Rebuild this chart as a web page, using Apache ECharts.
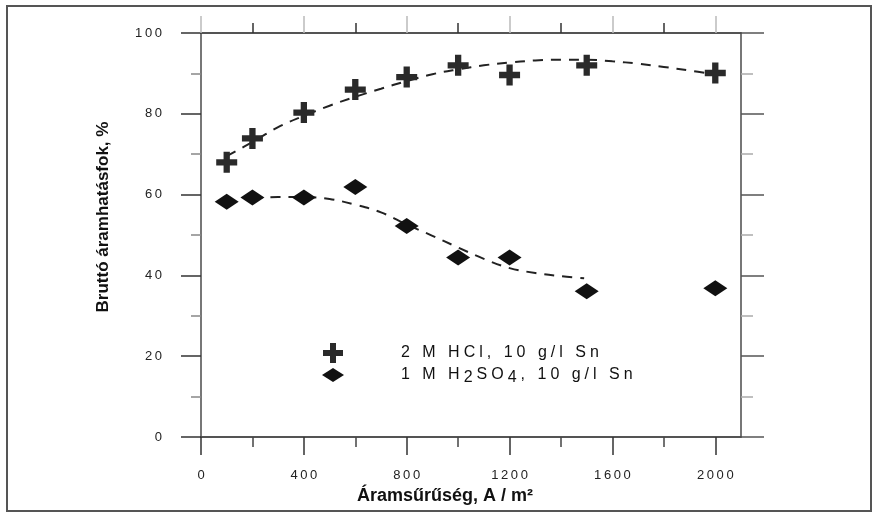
<!DOCTYPE html>
<html>
<head>
<meta charset="utf-8">
<script src="https://cdn.jsdelivr.net/npm/echarts@6/dist/echarts.min.js"></script>
<style>
  html, body { margin: 0; padding: 0; background: #fff; }
  #chart { width: 885px; height: 515px; }
</style>
</head>
<body>
<div id="chart"></div>
<script>
// Current density (A/m²) at which each efficiency was measured
const currentDensity = [100, 200, 400, 600, 800, 1000, 1200, 1500, 2000];
// Gross current efficiency (%) – 2 M HCl, 10 g/l Sn
const hclEfficiency = [68.0, 73.9, 80.3, 86.0, 89.1, 92.0, 89.6, 92.0, 90.1];
// Gross current efficiency (%) – 1 M H2SO4, 10 g/l Sn
const h2so4Efficiency = [58.2, 59.3, 59.3, 61.9, 52.2, 44.4, 44.4, 36.1, 36.8];

// Dashed trend curves
const hclTrendX = [100, 200, 300, 400, 500, 600, 700, 800, 900, 1000, 1100, 1200, 1300, 1400, 1500, 1600, 1700, 1800, 1900, 2000];
const hclTrendY = [69.5, 73.0, 76.7, 79.5, 82.0, 84.2, 86.2, 88.1, 89.8, 91.0, 92.0, 92.7, 93.2, 93.4, 93.4, 93.0, 92.4, 91.6, 90.7, 89.7];
const h2so4TrendX = [200, 300, 400, 500, 600, 700, 800, 900, 1000, 1100, 1200, 1300, 1400, 1490];
const h2so4TrendY = [59.0, 59.4, 59.4, 58.9, 57.5, 55.6, 52.6, 49.8, 46.9, 44.1, 41.8, 40.6, 39.8, 39.3];

// Axis ticks
const xLabelTicks = [0, 400, 800, 1200, 1600, 2000];
const xMidTicks = [200, 600, 1000, 1400, 1800];

const seriesNames = ['2 M HCl, 10 g/l Sn', '1 M H2SO4, 10 g/l Sn'];
const xTitle = 'Áramsűrűség, A / m²';
const yTitle = 'Bruttó áramhatásfok, %';

const THIN = '\u2009';
const WIDE = '\u2005';
const spaced = s => Array.from(String(s)).join(THIN);
// wide-tracked legend text, digits after an element symbol set as subscripts
function legendText(name) {
  const chars = Array.from(name);
  return chars.map((c, i) =>
    (/\d/.test(c) && i > 0 && /[A-Z]/.test(chars[i - 1])) ? '{s|' + c + '}' : c
  ).join(WIDE);
}

const PLUS = 'path://M7,0H13V7H20V13H13V20H7V13H0V7H7Z';
const FLAT_DIAMOND = 'path://M0,0M0,10L11,3L22,10L11,17ZM22,20';
const X_MAX = 2100;
const AXIS_COLOR = '#4a4a4a';
const FONT = 'Liberation Sans';

function xAxisDef(position, ticks, len, color, withLabels) {
  return {
    type: 'value', position: position, min: 0, max: X_MAX,
    axisLine: { show: true, onZero: false, lineStyle: { color: AXIS_COLOR, width: 1.5 } },
    axisTick: { show: true, inside: false, length: len, customValues: ticks,
                lineStyle: { color: color, width: 1.5 } },
    axisLabel: withLabels ? {
      show: true, customValues: ticks, margin: 32, color: '#222',
      fontFamily: FONT, fontSize: 13, formatter: v => spaced(v)
    } : { show: false },
    splitLine: { show: false }
  };
}

function yAxisDef(position, major, minor, majorColor, minorColor, withLabels) {
  return {
    type: 'value', position: position, min: 0, max: 100, interval: 20,
    axisLine: { show: true, onZero: false, lineStyle: { color: AXIS_COLOR, width: 1.5 } },
    axisTick: { show: true, inside: false, length: major, lineStyle: { color: majorColor, width: 1.5 } },
    minorTick: { show: true, splitNumber: 2, length: minor, lineStyle: { color: minorColor, width: 1.5 } },
    axisLabel: withLabels ? {
      show: true, margin: 39, color: '#222', fontFamily: FONT, fontSize: 13,
      formatter: v => spaced(v)
    } : { show: false },
    splitLine: { show: false }, minorSplitLine: { show: false }
  };
}

const bottomMain = xAxisDef('bottom', xLabelTicks, 18, '#333', true);
bottomMain.name = xTitle;
bottomMain.nameLocation = 'middle';
bottomMain.nameGap = 50;
bottomMain.nameTextStyle = { fontFamily: FONT, fontWeight: 'bold', fontSize: 18, color: '#111', padding: [0, 52, 0, 0] };

const leftMain = yAxisDef('left', 20, 10, '#333', '#888', true);
leftMain.name = yTitle;
leftMain.nameLocation = 'middle';
leftMain.nameGap = 89;
leftMain.nameTextStyle = { fontFamily: FONT, fontWeight: 'bold', fontSize: 17, color: '#111', padding: [0, 0, 0, 36] };

const option = {
  backgroundColor: '#fff',
  animation: false,
  grid: { left: 201, right: 144, top: 33, bottom: 78, containLabel: false },
  graphic: [{
    type: 'rect', shape: { x: 7, y: 6, width: 864, height: 505 },
    style: { fill: 'none', stroke: '#555', lineWidth: 2 }, silent: true, z: -1
  }],
  xAxis: [
    bottomMain,
    xAxisDef('bottom', xMidTicks, 10, '#444', false),
    xAxisDef('top', xLabelTicks, 17, '#bbb', false),
    xAxisDef('top', xMidTicks, 10, '#333', false)
  ],
  yAxis: [
    leftMain,
    yAxisDef('right', 23, 12, '#555', '#aaa', false)
  ],
  legend: {
    orient: 'vertical', left: 322, top: 343, itemGap: 2, padding: 0,
    itemWidth: 22, itemHeight: 20,
    data: [
      { name: seriesNames[0], icon: PLUS, itemStyle: { color: '#2a2a2a' } },
      { name: seriesNames[1], icon: FLAT_DIAMOND, itemStyle: { color: '#111' } }
    ],
    formatter: legendText,
    textStyle: {
      fontFamily: FONT, fontSize: 16, color: '#111', padding: [0, 0, 0, 52],
      rich: { s: { fontFamily: FONT, fontSize: 16, color: '#111', padding: [5, 0, 0, 0] } }
    }
  },
  series: [
    {
      name: 'hcl-trend', type: 'line', xAxisIndex: 0, yAxisIndex: 0,
      data: hclTrendX.map((x, i) => [x, hclTrendY[i]]),
      smooth: 0.4, showSymbol: false, silent: true, z: 1,
      lineStyle: { color: '#222', width: 2, type: [10, 8] }
    },
    {
      name: 'h2so4-trend', type: 'line', xAxisIndex: 0, yAxisIndex: 0,
      data: h2so4TrendX.map((x, i) => [x, h2so4TrendY[i]]),
      smooth: 0.4, showSymbol: false, silent: true, z: 1,
      lineStyle: { color: '#222', width: 2, type: [10, 8] }
    },
    {
      name: seriesNames[0], type: 'scatter', xAxisIndex: 0, yAxisIndex: 0,
      data: currentDensity.map((x, i) => [x, hclEfficiency[i]]),
      symbol: PLUS, symbolSize: [21, 21], z: 3,
      itemStyle: { color: '#2a2a2a', opacity: 1 }
    },
    {
      name: seriesNames[1], type: 'scatter', xAxisIndex: 0, yAxisIndex: 0,
      data: currentDensity.map((x, i) => [x, h2so4Efficiency[i]]),
      symbol: 'diamond', symbolSize: [24, 16], z: 3,
      itemStyle: { color: '#111', opacity: 1 }
    }
  ]
};

echarts.init(document.getElementById('chart'), null, { renderer: 'canvas' }).setOption(option);
</script>
</body>
</html>
